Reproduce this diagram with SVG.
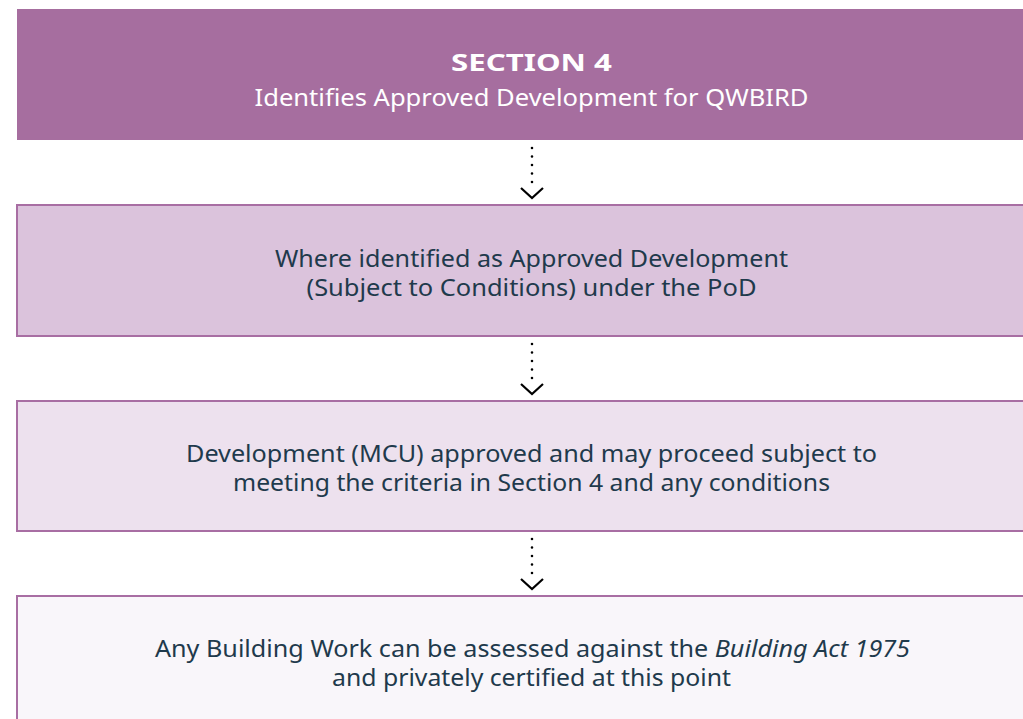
<svg xmlns="http://www.w3.org/2000/svg" width="1023" height="719" viewBox="0 0 1023 719">
<style>
text{font-family:"Noto Sans","Open Sans",sans-serif;fill:#1f3a4c;text-anchor:middle;font-size:23px}
.hdr{fill:#ffffff}
.box{stroke:#a86ea3;stroke-width:2}
.dot{stroke:#000;stroke-width:2.6;stroke-linecap:round;stroke-dasharray:0 8.5;fill:none}
.chev{stroke:#000;stroke-width:2.2;fill:none}
</style>
<rect width="1023" height="719" fill="#ffffff"/>
<g id="n1">
<rect x="17" y="9" width="1010" height="131" fill="#a66e9f"/>
<text class="hdr" x="531.5" y="71" font-weight="bold" font-size="31" textLength="161" lengthAdjust="spacingAndGlyphs">SECTION 4</text>
<text class="hdr" x="531.5" y="106" textLength="554" lengthAdjust="spacingAndGlyphs">Identifies Approved Development for QWBIRD</text>
</g>
<g id="n2">
<rect class="box" x="17" y="205" width="1010" height="131" fill="#dbc3dc"/>
<text x="531.5" y="267" textLength="513" lengthAdjust="spacingAndGlyphs">Where identified as Approved Development</text>
<text x="531.5" y="296" textLength="450" lengthAdjust="spacingAndGlyphs">(Subject to Conditions) under the PoD</text>
</g>
<g id="n3">
<rect class="box" x="17" y="401" width="1010" height="130" fill="#ede1ee"/>
<text x="531.5" y="462" textLength="691" lengthAdjust="spacingAndGlyphs">Development (MCU) approved and may proceed subject to</text>
<text x="531.5" y="491" textLength="597" lengthAdjust="spacingAndGlyphs">meeting the criteria in Section 4 and any conditions</text>
</g>
<g id="n4">
<rect class="box" x="17" y="596" width="1010" height="140" fill="#f9f6fa"/>
<text x="532.5" y="657" textLength="755" lengthAdjust="spacingAndGlyphs">Any Building Work can be assessed against the <tspan font-style="italic">Building Act 1975</tspan></text>
<text x="531.5" y="686" textLength="399" lengthAdjust="spacingAndGlyphs">and privately certified at this point</text>
</g>
<g id="connectors">
<path class="dot" d="M532 148V183"/>
<path class="chev" d="M521 188L532 198L543 188"/>
<path class="dot" d="M532 344V379"/>
<path class="chev" d="M521 384L532 394L543 384"/>
<path class="dot" d="M532 539V574"/>
<path class="chev" d="M521 579L532 589L543 579"/>
</g>
</svg>
